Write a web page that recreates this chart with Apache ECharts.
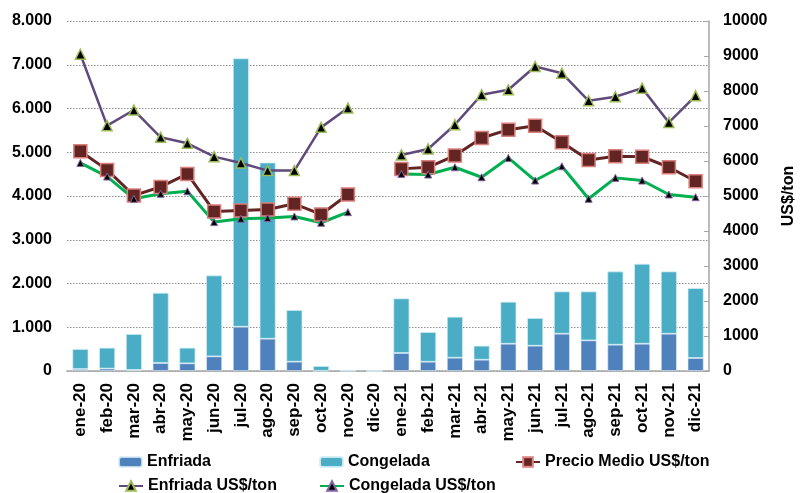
<!DOCTYPE html>
<html>
<head>
<meta charset="utf-8">
<script src="https://cdn.jsdelivr.net/npm/echarts@6/dist/echarts.min.js"></script>
<style>
html, body { margin: 0; padding: 0; background: #fff; }
#chart { width: 805px; height: 493px; }
</style>
</head>
<body>
<div id="chart"></div>
<script>
// meses
var months = ['ene-20','feb-20','mar-20','abr-20','may-20','jun-20','jul-20','ago-20','sep-20','oct-20','nov-20','dic-20',
              'ene-21','feb-21','mar-21','abr-21','may-21','jun-21','jul-21','ago-21','sep-21','oct-21','nov-21','dic-21'];

// volumen (ton) - eje izquierdo
var enfriada = [45, 55, 25, 183, 175, 335, 1012, 738, 213, 5, 3, 0,
                411, 212, 304, 258, 623, 578, 852, 700, 601, 623, 852, 297];
var congelada = [457, 477, 820, 1605, 357, 1849, 6134, 4027, 1180, 109, 22, 0,
                 1248, 678, 936, 320, 959, 632, 967, 1119, 1674, 1827, 1423, 1598];

// precios US$/ton - eje derecho
var precioMedio = [6276, 5746, 5014, 5260, 5632, 4558, 4587, 4615, 4777, 4473, 5043, null,
                   5775, 5821, 6154, 6657, 6895, 7009, 6533, 6031, 6135, 6125, 5821, 5422];
var enfriadaUsd = [9051, 7009, 7456, 6676, 6505, 6125, 5945, 5726, 5726, 6961, 7512, null,
                   6173, 6344, 7037, 7892, 8034, 8699, 8509, 7721, 7835, 8082, 7103, 7863];
var congeladaUsd = [5945, 5556, 4920, 5063, 5137, 4254, 4350, 4368, 4416, 4236, 4539, null,
                    5632, 5613, 5821, 5536, 6088, 5442, 5850, 4920, 5518, 5442, 5043, 4966];

var FONT = 'Liberation Sans, Arial, sans-serif';

function miles(v) {
	return String(v).replace(/\B(?=(\d{3})+(?!\d))/g, '.');
}

var myChart = echarts.init(document.getElementById('chart'));

var legendText = { fontFamily: FONT, fontWeight: 'bold', fontSize: 16, color: '#000' };

var option = {
	animation: false,
	backgroundColor: '#fff',
	grid: { left: 67, right: 83, top: 21, bottom: 122 },
	legend: [
		{ data: ['Enfriada'], left: 113, top: 449, itemWidth: 23, itemHeight: 10, textStyle: legendText },
		{ data: ['Congelada'], left: 314, top: 449, itemWidth: 23, itemHeight: 10, textStyle: legendText },
		{ data: ['Precio Medio US$/ton'], left: 510, top: 449, itemWidth: 24, itemHeight: 12, textStyle: legendText },
		{ data: ['Enfriada US$/ton'], left: 113, top: 473, itemWidth: 24, itemHeight: 12, textStyle: legendText },
		{ data: ['Congelada US$/ton'], left: 314, top: 473, itemWidth: 24, itemHeight: 12, textStyle: legendText }
	],
	xAxis: {
		type: 'category',
		data: months,
		axisLine: { show: true, lineStyle: { color: '#a6a6a6', width: 1.5 } },
		axisTick: { show: false },
		axisLabel: { rotate: 90, margin: 12, fontFamily: FONT, fontWeight: 'bold', fontSize: 17, color: '#000', interval: 0 }
	},
	yAxis: [
		{
			type: 'value',
			min: 0, max: 8000, interval: 1000,
			axisLine: { show: false },
			axisTick: { show: false },
			axisLabel: { margin: 15, fontFamily: FONT, fontWeight: 'bold', fontSize: 16, color: '#000', formatter: miles },
			splitLine: { show: true, lineStyle: { color: '#8c8c8c', type: [1.5, 1.5], width: 1 } }
		},
		{
			type: 'value',
			min: 0, max: 10000, interval: 1000,
			position: 'right',
			name: 'US$/ton',
			nameLocation: 'middle',
			nameRotate: 90,
			nameGap: 72,
			nameTextStyle: { fontFamily: FONT, fontWeight: 'bold', fontSize: 16, color: '#000' },
			axisLine: { show: true, lineStyle: { color: '#a6a6a6', width: 1.5 } },
			axisTick: { show: true, inside: true, length: 5, lineStyle: { color: '#a6a6a6' } },
			axisLabel: { margin: 14, fontFamily: FONT, fontWeight: 'bold', fontSize: 16, color: '#000',
				formatter: function (v) { return String(v); } },
			splitLine: { show: false }
		}
	],
	series: [
		{
			name: 'Enfriada',
			type: 'bar',
			stack: 'vol',
			barWidth: 16,
			yAxisIndex: 0,
			itemStyle: { color: '#4f81bd', borderColor: 'rgba(220,235,245,0.8)', borderWidth: 0.8 },
			data: enfriada
		},
		{
			name: 'Congelada',
			type: 'bar',
			stack: 'vol',
			barWidth: 16,
			yAxisIndex: 0,
			itemStyle: { color: '#4bacc6', borderColor: 'rgba(210,238,245,0.9)', borderWidth: 0.8 },
			data: congelada
		},
		{
			name: 'Precio Medio US$/ton',
			type: 'line',
			yAxisIndex: 1,
			symbol: 'rect',
			symbolSize: 13,
			connectNulls: false,
			lineStyle: { color: '#632523', width: 3 },
			itemStyle: { color: '#632523', borderColor: '#d9807d', borderWidth: 1.5 },
			data: precioMedio
		},
		{
			name: 'Enfriada US$/ton',
			type: 'line',
			yAxisIndex: 1,
			symbol: 'triangle',
			symbolSize: 10,
			connectNulls: false,
			lineStyle: { color: '#604a7b', width: 2.5 },
			itemStyle: { color: '#000', borderColor: '#9bbb59', borderWidth: 1.5 },
			data: enfriadaUsd
		},
		{
			name: 'Congelada US$/ton',
			type: 'line',
			yAxisIndex: 1,
			symbol: 'triangle',
			symbolSize: 7,
			connectNulls: false,
			lineStyle: { color: '#00b050', width: 3 },
			itemStyle: { color: '#000', borderColor: '#8064a2', borderWidth: 1 },
			data: congeladaUsd
		}
	]
};

myChart.setOption(option);
</script>
</body>
</html>
